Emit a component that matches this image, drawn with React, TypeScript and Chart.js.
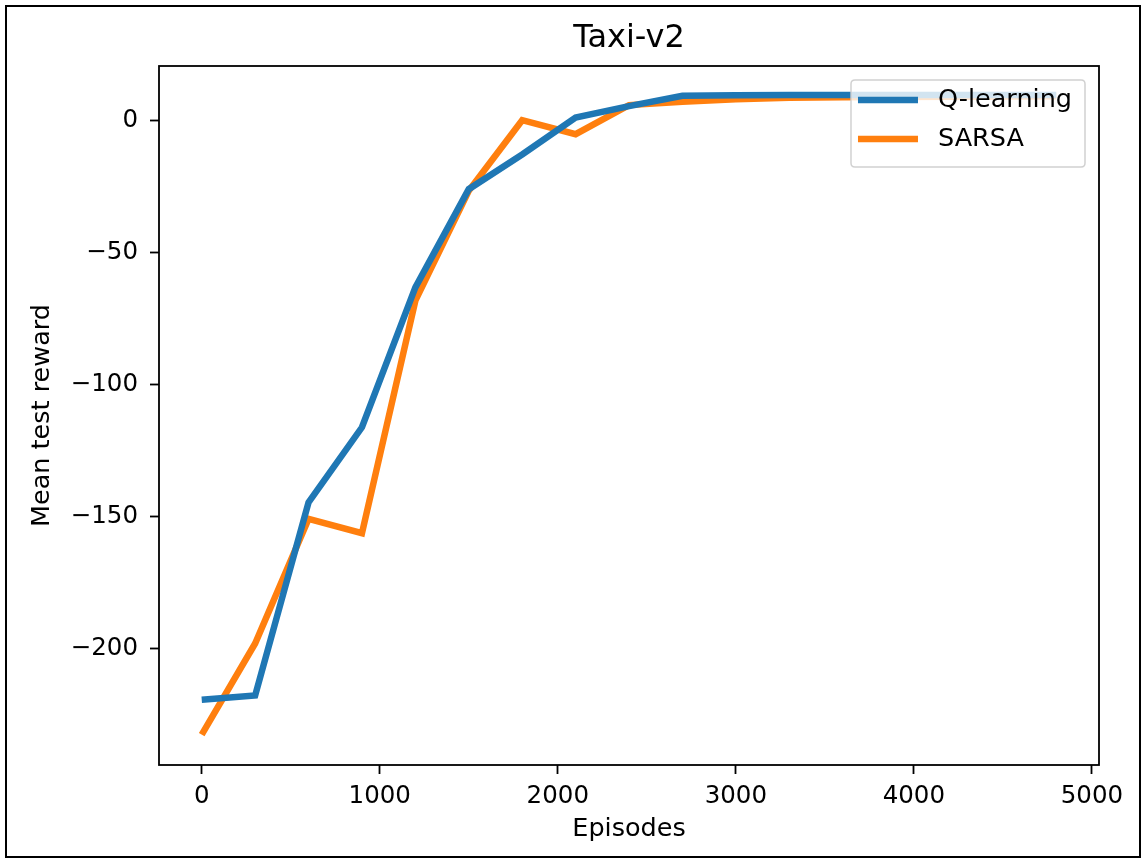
import React, { useEffect, useRef } from 'react';
import { Chart, registerables } from 'chart.js';

Chart.register(...registerables);

const episodes = [0, 300, 600, 900, 1200, 1500, 1800, 2100, 2400, 2700, 3000, 3300, 3600, 3900, 4200, 4500, 4800];
const qLearning = [-219.3, -217.7, -144.6, -116.2, -63.3, -26.1, -13.0, 1.0, 5.3, 9.2, 9.4, 9.5, 9.5, 9.5, 9.5, 9.5, 9.5];
const sarsa = [-232.5, -198.0, -150.9, -156.3, -68.3, -26.7, 0.0, -5.3, 5.7, 7.0, 7.9, 8.5, 8.7, 8.8, 8.9, 9.0, 9.1];

const seriesLabels = ['Q-learning', 'SARSA'];
const seriesColors = ['#1f77b4', '#ff7f0e'];

const xTicks = [0, 1000, 2000, 3000, 4000, 5000];
const yTicks = [-200, -150, -100, -50, 0];

const titleText = 'Taxi-v2';
const xLabel = 'Episodes';
const yLabel = 'Mean test reward';

const FONT = "'DejaVu Sans', sans-serif";
const LEGEND_FONT_SIZE = 25.5;

const framePlugin = {
  id: 'frame',
  afterLayout(chart: any) {
    // centre the title over the plotting area, as matplotlib does
    const tb = chart.titleBlock;
    if (tb) {
      tb.left = chart.chartArea.left;
      tb.right = chart.chartArea.right;
      tb.width = chart.chartArea.right - chart.chartArea.left;
    }
  },
  afterDatasetsDraw(chart: any) {
    const { ctx, chartArea } = chart;
    ctx.save();
    ctx.strokeStyle = '#000';
    ctx.lineWidth = 1.8;
    ctx.strokeRect(chartArea.left, chartArea.top, chartArea.right - chartArea.left, chartArea.bottom - chartArea.top);
    ctx.restore();
  },
};

const insideLegend = {
  id: 'insideLegend',
  afterDraw(chart: any) {
    const { ctx, chartArea } = chart;
    ctx.save();
    ctx.font = `${LEGEND_FONT_SIZE}px ${FONT}`;
    const items = chart.data.datasets.map((d: any) => ({ label: d.label, color: d.borderColor }));
    const textW = Math.max(...items.map((i: any) => ctx.measureText(i.label).width));
    const w = 87 + textW + 13;
    const h = 87;
    const x = chartArea.right - 14 - w;
    const y = chartArea.top + 14;
    const r = 4;
    ctx.beginPath();
    ctx.moveTo(x + r, y);
    ctx.lineTo(x + w - r, y);
    ctx.quadraticCurveTo(x + w, y, x + w, y + r);
    ctx.lineTo(x + w, y + h - r);
    ctx.quadraticCurveTo(x + w, y + h, x + w - r, y + h);
    ctx.lineTo(x + r, y + h);
    ctx.quadraticCurveTo(x, y + h, x, y + h - r);
    ctx.lineTo(x, y + r);
    ctx.quadraticCurveTo(x, y, x + r, y);
    ctx.closePath();
    ctx.fillStyle = 'rgba(255,255,255,0.8)';
    ctx.fill();
    ctx.strokeStyle = 'rgba(204,204,204,0.9)';
    ctx.lineWidth = 1.5;
    ctx.stroke();
    items.forEach((it: any, i: number) => {
      const cy = y + 20 + i * 39;
      ctx.beginPath();
      ctx.strokeStyle = it.color;
      ctx.lineWidth = 6.5;
      ctx.lineCap = 'butt';
      ctx.moveTo(x + 7, cy);
      ctx.lineTo(x + 67, cy);
      ctx.stroke();
      ctx.fillStyle = '#000';
      ctx.textBaseline = 'middle';
      ctx.textAlign = 'left';
      ctx.fillText(it.label, x + 87, cy);
    });
    ctx.restore();
  },
};

const minus = (v: any) => String(v).replace('-', '\u2212');

export default function App() {
  const ref = useRef<HTMLCanvasElement | null>(null);

  useEffect(() => {
    if (!ref.current) return;
    const seriesValues = [qLearning, sarsa];
    const chart = new Chart(ref.current, {
      type: 'line',
      data: {
        datasets: seriesValues.map((vals, i) => ({
          label: seriesLabels[i],
          data: episodes.map((e, j) => ({ x: e, y: vals[j] })),
          borderColor: seriesColors[i],
          backgroundColor: seriesColors[i],
          borderWidth: 6.5,
          pointRadius: 0,
          tension: 0,
          fill: false,
        })),
      },
      options: {
        animation: false,
        responsive: false,
        devicePixelRatio: 1,
        layout: { padding: { left: 0, right: 44, top: 0, bottom: 0 } },
        plugins: {
          legend: { display: false },
          tooltip: { enabled: false },
          title: {
            display: true,
            text: titleText,
            color: '#000',
            font: { family: FONT, size: 32, weight: 'normal' },
            padding: { top: 19, bottom: 8.6 },
          },
        },
        scales: {
          x: {
            type: 'linear',
            min: -240,
            max: 5040,
            afterBuildTicks: (axis: any) => {
              axis.ticks = xTicks.map((v) => ({ value: v }));
            },
            afterFit: (scale: any) => {
              scale.height = 94;
            },
            grid: { display: true, drawOnChartArea: false, drawTicks: true, tickLength: 9, tickColor: '#000', tickWidth: 1.8 },
            border: { display: false },
            ticks: {
              color: '#000',
              padding: 8,
              maxRotation: 0,
              autoSkip: false,
              font: { family: FONT, size: 24.5 },
              callback: (v: any) => minus(v),
            },
            title: {
              display: true,
              text: xLabel,
              color: '#000',
              font: { family: FONT, size: 25.5 },
              padding: { top: 0, bottom: 14 },
            },
          },
          y: {
            type: 'linear',
            min: -244,
            max: 20.5,
            afterBuildTicks: (axis: any) => {
              axis.ticks = yTicks.map((v) => ({ value: v }));
            },
            afterFit: (scale: any) => {
              scale.width = 159;
            },
            grid: { display: true, drawOnChartArea: false, drawTicks: true, tickLength: 9, tickColor: '#000', tickWidth: 1.8 },
            border: { display: false },
            ticks: {
              color: '#000',
              padding: 12,
              autoSkip: false,
              font: { family: FONT, size: 24.5 },
              callback: (v: any) => minus(v),
            },
            title: {
              display: true,
              text: yLabel,
              color: '#000',
              font: { family: FONT, size: 25.5 },
              padding: { top: 27, bottom: 0 },
            },
          },
        },
      },
      plugins: [framePlugin, insideLegend],
    } as any);
    return () => chart.destroy();
  }, []);

  return (
    <div style={{ position: 'fixed', left: 0, top: 0, width: 1143, height: 859, background: '#fff' }}>
      <canvas ref={ref} width={1143} height={859} style={{ display: 'block', width: 1143, height: 859 }} />
      <div
        style={{
          position: 'absolute',
          left: 5,
          top: 5,
          width: 1136,
          height: 853,
          boxSizing: 'border-box',
          border: '2.5px solid #000',
          pointerEvents: 'none',
        }}
      />
    </div>
  );
}
